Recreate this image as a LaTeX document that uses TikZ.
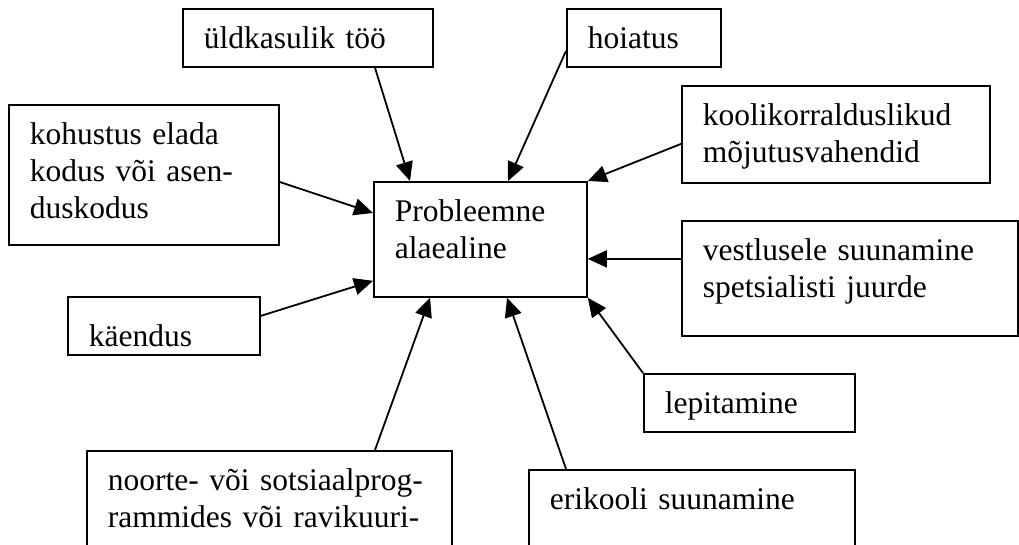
\documentclass[tikz,border=0pt]{standalone}
\usepackage{fontspec}
\setmainfont{Liberation Serif}
\usetikzlibrary{arrows.meta}
\begin{document}
\begin{tikzpicture}[x=1pt, y=-1pt, line width=1.8pt, >={Triangle[length=19pt,width=17pt]},
  font=\fontsize{31.5}{37}\selectfont,
  kast/.style={draw, anchor=north west, align=left, inner xsep=21pt, inner ysep=0pt, text height=40pt}]
\path[use as bounding box] (0,0) rectangle (1019,545);
\clip (0,0) rectangle (1019,545);
% keskmine kast
\node[kast, text width=171pt, text depth=75pt] (probl) at (373,181) {Probleemne\\alaealine};
% mojutusvahendid
\node[kast, text width=208pt, text depth=18pt] (uld) at (182,8) {üldkasulik töö};
\node[kast, text width=112pt, text depth=18pt] (hoiatus) at (566,8) {hoiatus};
\node[kast, text width=228pt, text depth=100pt] (kohustus) at (8,104) {kohustus elada\\kodus või asen-\\duskodus};
\node[kast, text width=266pt, text depth=57pt] (koolik) at (681,85) {koolikorralduslikud\\mõjutusvahendid};
\node[kast, text width=294pt, text depth=75pt] (vestl) at (681,220) {vestlusele suunamine\\spetsialisti juurde};
\node[kast, text width=150pt, text height=50pt, text depth=8pt] (kaendus) at (67,296) {käendus};
\node[kast, text width=169pt, text depth=18pt] (lepit) at (643,373) {lepitamine};
\node[kast, text width=323pt, text depth=80pt] (noorte) at (86,450) {noorte- või sotsiaalprog-\\rammides või ravikuuri-};
\node[kast, text width=284pt, text depth=60pt] (erik) at (528,469) {erikooli suunamine};
% nooled
\draw[->] ([xshift=193pt]uld.south west) -- ([xshift=37pt]probl.north west);
\draw[->] ([yshift=-13pt]hoiatus.west) -- ([xshift=135pt]probl.north west);
\draw[->] ([yshift=-9.5pt]koolik.west) -- (probl.north east);
\draw[->] ([yshift=-78pt]kohustus.north east) -- ([yshift=-32pt]probl.north west);
\draw[->] ([yshift=19.5pt]vestl.west) -- ([yshift=-19.5pt]probl.east);
\draw[->] ([yshift=10pt]kaendus.east) -- ([yshift=17pt]probl.south west);
\draw[->] ([xshift=289pt]noorte.north west) -- ([xshift=57pt]probl.south west);
\draw[->] ([xshift=38pt]erik.north west) -- ([xshift=134pt]probl.south west);
\draw[->] (lepit.north west) -- (probl.south east);
\end{tikzpicture}
\end{document}
